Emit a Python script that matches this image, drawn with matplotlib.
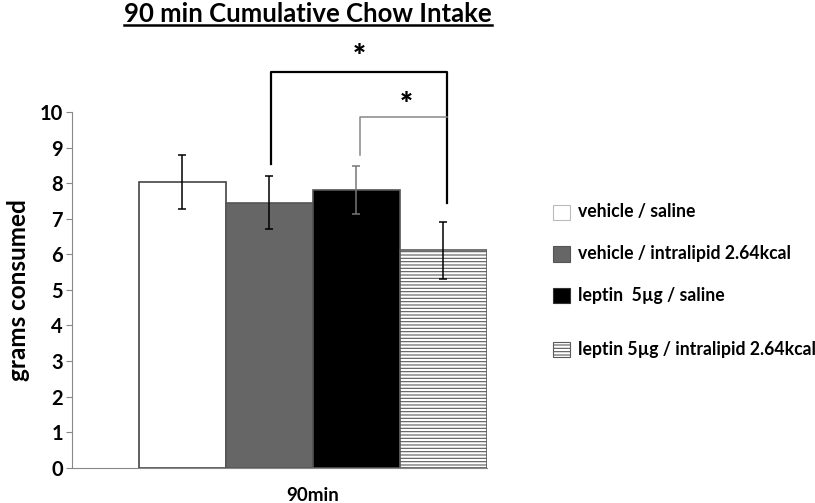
import matplotlib
matplotlib.use("Agg")
import matplotlib.pyplot as plt
from matplotlib.patches import Rectangle
from matplotlib.lines import Line2D

plt.rcParams['font.family'] = ['Lato', 'DejaVu Sans']
plt.rcParams['hatch.linewidth'] = 0.8

# data
groups = ["vehicle / saline", "vehicle / intralipid 2.64kcal",
          "leptin  5\u00b5g / saline", "leptin 5\u00b5g / intralipid 2.64kcal"]
means = [8.03, 7.45, 7.80, 6.11]
sems = [0.77, 0.74, 0.68, 0.80]
yticks = list(range(0, 11))
xlabel = "90min"

faces = ["white", "#666666", "black", "white"]
edges = ["#444444", "#555555", "#555555", "#5a5a5a"]
hatches = [None, None, None, "-----"]
err_colors = ["black", "black", "#777777", "black"]

fig = plt.figure(figsize=(8.15, 5.03), dpi=100)
ax = fig.add_axes([72 / 815, 1 - 467.7 / 503, 415 / 815, 355.7 / 503])

xs = [0, 1, 2, 3]
for i, x in enumerate(xs):
    ax.bar(x, means[i], width=1, color=faces[i], edgecolor=edges[i],
           hatch=hatches[i], linewidth=1.2, zorder=2)
    ax.errorbar(x, means[i], yerr=sems[i], color=err_colors[i], capsize=3,
                elinewidth=1.1, capthick=1.1, zorder=3)

ax.set_xlim(-1.27, 3.5)
ax.set_ylim(0, 10)
ax.set_yticks(yticks)
ax.set_xticks([])
for s in ["top", "right"]:
    ax.spines[s].set_visible(False)
for s in ["left", "bottom"]:
    ax.spines[s].set_color("#888888")
ax.tick_params(axis='y', colors="#888888", length=4.5, pad=2,
               labelcolor="black", labelsize=14.5)
for lab in ax.get_yticklabels():
    lab.set_fontweight("bold")
ax.set_ylabel("grams consumed", fontsize=17.5, fontweight="bold", labelpad=7)
ax.text(1.5, -0.55, xlabel, ha="center", va="top", fontsize=13.5,
        fontweight="bold")

# significance brackets
big_top = 11.12
ax.plot([1.02, 1.02, 3.04, 3.04], [8.55, big_top, big_top, 7.43],
        color="black", lw=1.6, clip_on=False, zorder=4)
ax.plot([2.04, 2.04, 3.04], [8.78, 9.85, 9.85], color="#888888", lw=1.1,
        clip_on=False, zorder=4)
ax.text(2.03, 11.55, "*", ha="center", va="center", fontsize=22,
        fontweight="heavy")
ax.text(2.57, 10.2, "*", ha="center", va="center", fontsize=22,
        fontweight="heavy")

# legend
leg_y = [212, 254, 295, 349]
leg_edges = ["#bbbbbb", "#555555", "#333333", "#5a5a5a"]
for i, g in enumerate(leg_y):
    fig.patches.append(Rectangle((553 / 815, 1 - (g + 7.5) / 503), 17 / 815,
                                 15 / 503, transform=fig.transFigure,
                                 facecolor=faces[i], edgecolor=leg_edges[i],
                                 hatch=hatches[i], linewidth=0.8))
    fig.text(578 / 815, 1 - g / 503, groups[i], ha="left", va="center",
             fontsize=12.7, fontweight="bold")

# underlined title
title = fig.text(308 / 815, 1 - 14 / 503, "90 min Cumulative Chow Intake",
                 ha="center", va="center", fontsize=18.5, fontweight="bold")
fig.canvas.draw()
bb = title.get_window_extent().transformed(fig.transFigure.inverted())
fig.add_artist(Line2D([bb.x0, bb.x1], [bb.y0 + 0.001, bb.y0 + 0.001],
                      transform=fig.transFigure, color="black", lw=1.8))

fig.savefig("out.png", dpi=100)
